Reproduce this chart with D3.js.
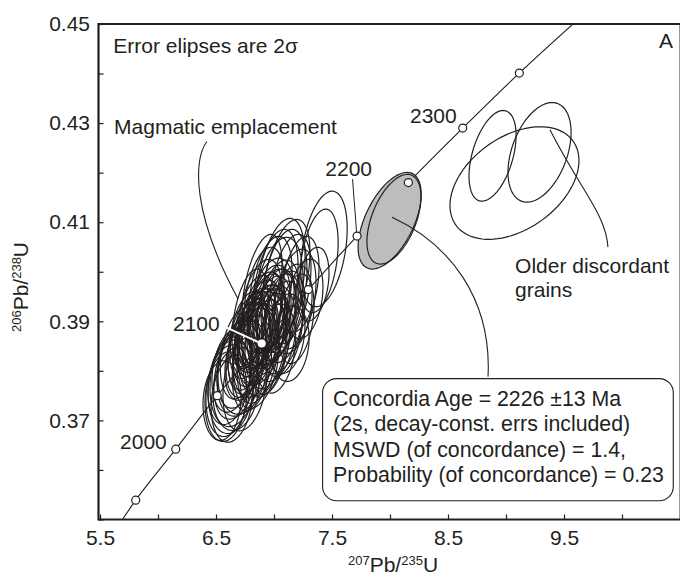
<!DOCTYPE html>
<html>
<head>
<meta charset="utf-8">
<script src="https://cdn.jsdelivr.net/npm/d3@7"></script>
<style>
  body { margin: 0; background: #fff; }
  svg text { font-family: "Liberation Sans", Arial, sans-serif; fill: #231f20; }
</style>
</head>
<body>
<script>
// concordia curve (age in Ma, 207Pb/235U, 206Pb/238U)
const concAges = [1900, 1950, 2000, 2050, 2100, 2150, 2200, 2250, 2300, 2350, 2400]
const concX = [5.496, 5.808, 6.153, 6.511, 6.894, 7.296, 7.716, 8.158, 8.627, 9.115, 9.630]
const concY = [0.3428, 0.3539, 0.3642, 0.3750, 0.3855, 0.3964, 0.4072, 0.4180, 0.4290, 0.4401, 0.4511]
const markedAges = [1950, 2000, 2050, 2100, 2150, 2200, 2250, 2300, 2350]
const labelledAges = [2000, 2100, 2200, 2300]

// grain error ellipses: centre, 2s errors, error correlation
const grainX = [6.586, 6.603, 6.629, 6.612, 6.655, 6.672, 6.638, 6.707, 6.690, 6.733, 6.552, 6.672,
  6.759, 6.784, 6.810, 6.836, 6.793, 6.862, 6.828, 6.888, 6.853, 6.914, 6.879, 6.940, 6.905, 6.966,
  6.931, 6.991, 6.957, 7.017, 6.983, 7.034, 6.897, 6.948, 6.845, 7.000, 7.052, 7.086, 6.741, 6.776,
  7.103, 7.138, 7.009, 7.052, 7.086, 6.966, 7.103, 7.138, 7.034, 7.181, 7.155, 6.914,
  7.431, 7.388, 7.336, 7.267, 7.224,
  6.810, 6.862, 6.922, 6.767, 6.966, 6.879, 7.069, 6.707, 7.017, 6.836, 6.638, 6.750,
  6.897, 6.793, 7.190,
  8.884, 9.289, 9.073, 8.034]
const grainY = [0.3748, 0.3760, 0.3768, 0.3780, 0.3784, 0.3793, 0.3801, 0.3801, 0.3813, 0.3809, 0.3740, 0.3764,
  0.3835, 0.3845, 0.3853, 0.3841, 0.3865, 0.3861, 0.3875, 0.3869, 0.3885, 0.3881, 0.3895, 0.3889, 0.3905, 0.3901,
  0.3915, 0.3909, 0.3925, 0.3921, 0.3935, 0.3933, 0.3855, 0.3865, 0.3825, 0.3875, 0.3895, 0.3909, 0.3821, 0.3885,
  0.3875, 0.3855, 0.3965, 0.3975, 0.3961, 0.3955, 0.3985, 0.3965, 0.3945, 0.3945, 0.3925, 0.3945,
  0.4046, 0.4022, 0.3975, 0.3945, 0.3975,
  0.3815, 0.3835, 0.3845, 0.3855, 0.3855, 0.3915, 0.3885, 0.3835, 0.3845, 0.3895, 0.3744, 0.3774,
  0.3965, 0.3905, 0.3905,
  0.4234, 0.4241, 0.4179, 0.4106]
const grainSx = [0.181, 0.190, 0.198, 0.181, 0.207, 0.190, 0.173, 0.198, 0.181, 0.216, 0.164, 0.198,
  0.173, 0.181, 0.164, 0.190, 0.173, 0.181, 0.164, 0.198, 0.173, 0.190, 0.181, 0.173, 0.190, 0.181,
  0.164, 0.198, 0.181, 0.173, 0.190, 0.181, 0.207, 0.198, 0.198, 0.190, 0.198, 0.181, 0.164, 0.155,
  0.164, 0.164, 0.198, 0.216, 0.198, 0.190, 0.207, 0.181, 0.216, 0.181, 0.173, 0.173,
  0.200, 0.165, 0.138, 0.155, 0.164,
  0.170, 0.181, 0.190, 0.165, 0.170, 0.190, 0.180, 0.170, 0.170, 0.175, 0.180, 0.190,
  0.172, 0.155, 0.155,
  0.203, 0.272, 0.556, 0.233]
const grainSy = [0.00905, 0.00925, 0.00945, 0.00884, 0.00965, 0.00905, 0.00844, 0.00925, 0.00884, 0.00965, 0.00804, 0.00844,
  0.00884, 0.00925, 0.00844, 0.00945, 0.00804, 0.00905, 0.00864, 0.00965, 0.00824, 0.00925, 0.00884, 0.00844, 0.00945, 0.00905,
  0.00804, 0.00965, 0.00884, 0.00844, 0.00925, 0.00905, 0.01045, 0.01005, 0.01005, 0.00965, 0.01005, 0.00925, 0.00804, 0.00764,
  0.00804, 0.00764, 0.01206, 0.01327, 0.01246, 0.01166, 0.01206, 0.01106, 0.01246, 0.01005, 0.00905, 0.01045,
  0.01166, 0.01045, 0.00744, 0.00804, 0.00965,
  0.00965, 0.01005, 0.00980, 0.00940, 0.01020, 0.01100, 0.00960, 0.00920, 0.00900, 0.00980, 0.00880, 0.00950,
  0.01106, 0.01005, 0.00905,
  0.00915, 0.01005, 0.01136, 0.00905]
const grainRho = [0.15, 0.20, 0.15, 0.25, 0.20, 0.30, 0.25, 0.25, 0.30, 0.20, 0.10, 0.15,
  0.35, 0.30, 0.35, 0.30, 0.40, 0.35, 0.40, 0.30, 0.35, 0.35, 0.40, 0.30, 0.35, 0.40,
  0.35, 0.30, 0.40, 0.35, 0.30, 0.40, 0.25, 0.30, 0.25, 0.25, 0.30, 0.35, 0.30, 0.40,
  0.20, 0.15, 0.40, 0.40, 0.35, 0.40, 0.45, 0.40, 0.35, 0.35, 0.30, 0.35,
  0.35, 0.35, 0.30, 0.30, 0.35,
  0.30, 0.35, 0.30, 0.35, 0.35, 0.40, 0.30, 0.30, 0.25, 0.40, 0.20, 0.25,
  0.45, 0.40, 0.30,
  0.45, 0.40, 0.40, 0.50]

// concordia age ellipse (grey)
const ageCentre = [7.997, 0.4103]
const ageErr = [0.272, 0.00975]
const ageRho = 0.55

const xTicks = [5.5, 6, 6.5, 7, 7.5, 8, 8.5, 9, 9.5, 10]
const xLabels = [5.5, 6.5, 7.5, 8.5, 9.5]
const yTicks = [0.35, 0.36, 0.37, 0.38, 0.39, 0.40, 0.41, 0.42, 0.43, 0.44, 0.45]
const yLabels = [0.37, 0.39, 0.41, 0.43, 0.45]

const boxLines = [
  "Concordia Age = 2226 \u00b113 Ma",
  "(2s, decay-const. errs included)",
  "MSWD (of concordance) = 1.4,",
  "Probability (of concordance) = 0.23"
]

const W = 680, H = 577
const pL = 98.5, pR = 680, pT = 24, pB = 519.5
const ink = "#231f20"
const fs = 21

const svg = d3.select("body").append("svg").attr("width", W).attr("height", H)

const x = d3.scaleLinear().domain([5.487, 10.5]).range([pL, pR])
const y = d3.scaleLinear().domain([0.35, 0.45]).range([pB, pT])

svg.append("clipPath").attr("id", "plot")
  .append("rect").attr("x", pL).attr("y", pT).attr("width", pR - pL).attr("height", pB - pT)

const ellipsePath = (cx, cy, sx, sy, rho) => {
  const pts = d3.range(96).map(i => {
    const t = i / 96 * 2 * Math.PI
    return [x(cx + sx * Math.cos(t)), y(cy + sy * (rho * Math.cos(t) + Math.sqrt(1 - rho * rho) * Math.sin(t)))]
  })
  return d3.line().curve(d3.curveLinearClosed)(pts)
}

const plot = svg.append("g").attr("clip-path", "url(#plot)")

// concordia curve
const concPts = concAges.map((a, i) => [x(concX[i]), y(concY[i])])
plot.append("path")
  .attr("d", d3.line().curve(d3.curveCatmullRom)(concPts))
  .attr("fill", "none").attr("stroke", ink).attr("stroke-width", 1.1)

// grey concordia age ellipse
plot.append("path")
  .attr("d", ellipsePath(ageCentre[0], ageCentre[1], ageErr[0], ageErr[1], ageRho))
  .attr("fill", "#bdbdbd").attr("stroke", ink).attr("stroke-width", 1.2)

// grain ellipses
plot.selectAll("path.grain")
  .data(grainX.map((d, i) => i))
  .enter()
  .append("path")
  .attr("class", "grain")
  .attr("d", i => ellipsePath(grainX[i], grainY[i], grainSx[i], grainSy[i], grainRho[i]))
  .attr("fill", "none").attr("stroke", ink).attr("stroke-width", 1.2)

// age markers
const ageIdx = a => concAges.indexOf(a)
const mx = a => x(concX[ageIdx(a)])
const my = a => y(concY[ageIdx(a)])

// 2100 sits inside the cluster: white leader and white dot
svg.append("line")
  .attr("x1", mx(2100) - 35).attr("y1", my(2100) - 16)
  .attr("x2", mx(2100)).attr("y2", my(2100))
  .attr("stroke", "#fff").attr("stroke-width", 2)

svg.selectAll("circle.age")
  .data(markedAges.filter(a => a !== 2100))
  .enter()
  .append("circle")
  .attr("class", "age")
  .attr("cx", a => mx(a)).attr("cy", a => my(a)).attr("r", 4)
  .attr("fill", "#fff").attr("stroke", ink).attr("stroke-width", 1.2)

svg.append("circle")
  .attr("cx", mx(2100)).attr("cy", my(2100)).attr("r", 4)
  .attr("fill", "#fff")

// 2200 leader
svg.append("line")
  .attr("x1", mx(2200) - 4.5).attr("y1", my(2200) - 57)
  .attr("x2", mx(2200) - 0.5).attr("y2", my(2200) - 4)
  .attr("stroke", ink).attr("stroke-width", 1)

const ageLabelOffset = { 2000: [-9, 0], 2100: [-42, -13], 2200: [15, -60], 2300: [-6, -5.5] }
svg.selectAll("text.age")
  .data(labelledAges)
  .enter()
  .append("text")
  .attr("class", "age")
  .attr("x", a => mx(a) + ageLabelOffset[a][0])
  .attr("y", a => my(a) + ageLabelOffset[a][1])
  .attr("text-anchor", "end")
  .attr("font-size", fs)
  .text(a => a)

// axes
const xAxis = d3.axisBottom(x).tickValues(xTicks).tickSize(-5).tickPadding(10.5)
  .tickFormat(d => xLabels.includes(d) ? d3.format(".1f")(d) : "")
const yAxis = d3.axisLeft(y).tickValues(yTicks).tickSize(-5).tickPadding(8.5)
  .tickFormat(d => yLabels.includes(d) ? d3.format(".2f")(d) : "")

const gx = svg.append("g").attr("transform", "translate(0," + pB + ")").call(xAxis)
const gy = svg.append("g").attr("transform", "translate(" + pL + ",0)").call(yAxis)
;[gx, gy].forEach(g => {
  g.attr("font-family", null).attr("font-size", null)
  g.select(".domain").remove()
  g.selectAll(".tick line").attr("stroke", ink).attr("stroke-width", 1.2)
  g.selectAll(".tick text").attr("font-size", fs).attr("fill", ink)
})

// frame
svg.append("line").attr("x1", pR - 0.5).attr("x2", pR - 0.5).attr("y1", pT).attr("y2", pB)
  .attr("stroke", "#9a9a9a").attr("stroke-width", 1)
svg.append("path")
  .attr("d", `M${pR},${pT}H${pL}V${pB}H${pR}`)
  .attr("fill", "none").attr("stroke", ink).attr("stroke-width", 2.2)

// axis titles
const yt = svg.append("text")
  .attr("transform", "translate(28,287) rotate(-90)")
  .attr("text-anchor", "middle").attr("font-size", fs)
yt.append("tspan").attr("font-size", 13).attr("dy", -7).text("206")
yt.append("tspan").attr("dy", 7).text("Pb/")
yt.append("tspan").attr("font-size", 13).attr("dy", -7).text("238")
yt.append("tspan").attr("dy", 7).text("U")

const xt = svg.append("text")
  .attr("x", 393).attr("y", 572)
  .attr("text-anchor", "middle").attr("font-size", fs)
xt.append("tspan").attr("font-size", 13).attr("dy", -7).text("207")
xt.append("tspan").attr("dy", 7).text("Pb/")
xt.append("tspan").attr("font-size", 13).attr("dy", -7).text("235")
xt.append("tspan").attr("dy", 7).text("U")

// annotations
svg.append("text").attr("x", x(5.615)).attr("y", y(0.44411)).attr("font-size", fs)
  .text("Error elipses are 2\u03c3")
svg.append("text").attr("x", x(10.440)).attr("y", y(0.44518)).attr("font-size", fs)
  .attr("text-anchor", "end").text("A")
svg.append("text").attr("x", x(5.621)).attr("y", y(0.42779)).attr("font-size", fs)
  .text("Magmatic emplacement")
const od = svg.append("text").attr("font-size", fs)
od.append("tspan").attr("x", x(9.078)).attr("y", y(0.39975)).text("Older discordant")
od.append("tspan").attr("x", x(9.078)).attr("dy", 24.5).text("grains")

const leader = pts => {
  const p = pts.map(d => [x(d[0]), y(d[1])])
  return `M${p[0]}C${p[1]} ${p[2]} ${p[3]}`
}
const leaders = [
  [[6.422, 0.42628], [6.302, 0.42266], [6.293, 0.41161], [6.690, 0.39452]],
  [[8.017, 0.41100], [8.517, 0.40558], [8.879, 0.39452], [8.845, 0.37884]],
  [[9.379, 0.42864], [9.638, 0.41663], [9.862, 0.41161], [9.879, 0.40497]]
]
svg.selectAll("path.leader")
  .data(leaders)
  .enter()
  .append("path")
  .attr("class", "leader")
  .attr("d", leader)
  .attr("fill", "none").attr("stroke", ink).attr("stroke-width", 1.1)

// result box
const bx0 = x(7.419), bx1 = x(10.442), by0 = y(0.37844), by1 = y(0.35378)
svg.append("rect")
  .attr("x", bx0).attr("y", by0).attr("width", bx1 - bx0).attr("height", by1 - by0)
  .attr("rx", 14).attr("fill", "#fff").attr("stroke", ink).attr("stroke-width", 1.1)
svg.append("text").attr("font-size", 21.3)
  .selectAll("tspan")
  .data(boxLines)
  .enter()
  .append("tspan")
  .attr("x", x(7.509))
  .attr("y", (d, i) => y(0.37291) + i * 25.5)
  .text(d => d)
</script>
</body>
</html>
